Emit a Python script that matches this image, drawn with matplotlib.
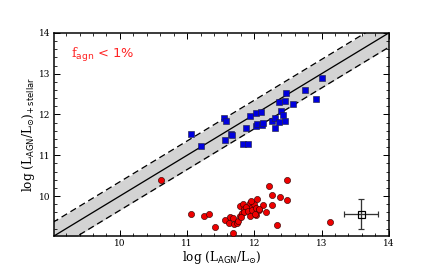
import matplotlib
matplotlib.use("Agg")
import matplotlib.pyplot as plt
import numpy as np
from matplotlib.ticker import MultipleLocator

plt.rcParams['font.family'] = ['DejaVu Serif']
plt.rcParams['mathtext.fontset'] = 'dejavuserif'

# Blue squares (f_agn > 1%)
blue_x = [11.06, 11.20, 11.55, 11.58, 11.56, 11.65, 11.67, 11.83, 11.91, 11.87,
          11.94, 12.03, 12.10, 12.03, 12.04, 12.12, 12.13, 12.26, 12.30, 12.31,
          12.36, 12.40, 12.42, 12.36, 12.46, 12.46, 12.47, 12.58, 12.75, 12.91, 13.01]
blue_y = [11.51, 11.22, 11.92, 11.84, 11.38, 11.53, 11.50, 11.27, 11.28, 11.66,
          11.96, 12.04, 12.07, 11.71, 11.76, 11.73, 11.79, 11.83, 11.68, 11.92,
          11.81, 12.09, 11.99, 12.30, 12.32, 11.83, 12.53, 12.25, 12.61, 12.39, 12.89]

# Red circles (f_agn < 1%)
red_x = [10.61, 11.06, 11.25, 11.33, 11.41, 11.68, 11.56, 11.62, 11.64, 11.68,
         11.70, 11.74, 11.76, 11.79, 11.81, 11.78, 11.83, 11.84, 11.88, 11.85,
         11.91, 11.93, 11.97, 12.00, 11.97, 12.03, 12.03, 12.04, 12.07, 12.13,
         12.17, 12.22, 12.27, 12.27, 12.38, 12.48, 12.48, 12.34, 13.12, 11.80,
         11.95, 11.94, 12.01, 12.07]
red_y = [10.40, 9.57, 9.50, 9.57, 9.25, 9.09, 9.41, 9.34, 9.48, 9.46,
         9.31, 9.33, 9.39, 9.51, 9.59, 9.76, 9.81, 9.69, 9.74, 9.61,
         9.64, 9.84, 9.74, 9.81, 9.66, 9.54, 9.71, 9.92, 9.66, 9.77,
         9.62, 10.24, 10.03, 9.79, 9.98, 10.40, 9.91, 9.29, 9.36, 9.49,
         9.89, 9.52, 9.57, 9.68]

# Typical error bar
err_x, err_y = 13.59, 9.56
err_dx, err_dy = 0.25, 0.36

band = 0.35
line_x = np.array([9.0, 14.0])

fig = plt.figure(figsize=(6.0, 3.75), dpi=72)
ax = fig.add_axes([0.125, 0.126, 0.775, 0.752])

ax.fill_between(line_x, line_x - band, line_x + band, color='#d3d3d3', zorder=1, lw=0)
ax.plot(line_x, line_x, color='black', lw=1.3, zorder=2)
ax.plot(line_x, line_x + band, color='black', lw=1.3, ls=(0, (5, 3)), zorder=2)
ax.plot(line_x, line_x - band, color='black', lw=1.3, ls=(0, (5, 3)), zorder=2)

ax.scatter(blue_x, blue_y, marker='s', s=38, facecolor='#0000dd', edgecolor='#222244',
           linewidth=0.6, zorder=3)
ax.scatter(red_x, red_y, marker='o', s=38, facecolor='#ee0000', edgecolor='#330000',
           linewidth=0.6, zorder=3)

ax.errorbar([err_x], [err_y], xerr=[err_dx], yerr=[err_dy], fmt='s', mfc='none',
            mec='black', ms=7, mew=1.2, ecolor='#333333', elinewidth=1.3, capsize=3,
            capthick=1.3, zorder=4)

ax.set_xlim(9.02, 14)
ax.set_ylim(9.02, 14)
ax.xaxis.set_major_locator(MultipleLocator(1))
ax.yaxis.set_major_locator(MultipleLocator(1))
ax.xaxis.set_minor_locator(MultipleLocator(0.2))
ax.yaxis.set_minor_locator(MultipleLocator(0.2))
ax.tick_params(which='both', direction='in', top=True, right=True, labelsize=9)
ax.tick_params(which='major', length=6, width=1)
ax.tick_params(which='minor', length=3, width=0.8)
for s in ax.spines.values():
    s.set_linewidth(1.5)

ax.set_xlabel(r'log (L$_{\mathsf{AGN}}$/L$_{\odot}$)', fontsize=12, labelpad=1)
ax.set_ylabel(r'log (L$_{\mathsf{AGN}}$/L$_{\odot}$)$_{\mathsf{+\,stellar}}$', fontsize=12,
              labelpad=2)

ax.text(0.05, 0.89, r'$\mathrm{f}_{\mathsf{agn}}$ < 1%', transform=ax.transAxes,
        color='#ff2222', fontsize=13, va='center', ha='left', family='DejaVu Sans')

fig.savefig('out.png', dpi=72)
